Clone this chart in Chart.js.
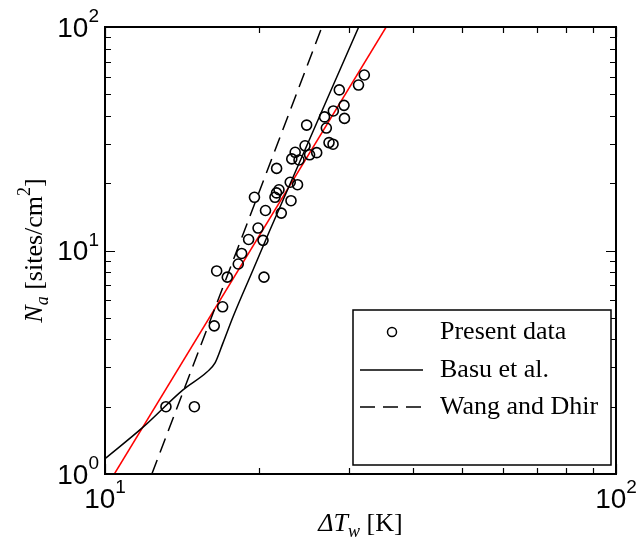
<!DOCTYPE html>
<html>
<head>
<meta charset="utf-8">
<script src="https://cdn.jsdelivr.net/npm/chart.js@4/dist/chart.umd.min.js"></script>
<style>
  html, body { margin: 0; padding: 0; background: #fff; }
  #wrap { width: 638px; height: 539px; position: relative; }
</style>
</head>
<body>
<div id="wrap"><canvas id="chart"></canvas></div>
<script>
// Data (wall superheat [K] vs active site density [sites/cm2])
const presentT = [32.17, 31.34, 28.74, 29.36, 27.98, 26.89, 29.42, 24.81, 27.11, 27.44,
                  27.94, 24.63, 23.56, 25.96, 25.14, 23.20, 23.97, 21.67, 23.04, 23.81,
                  21.90, 21.66, 21.51, 19.61, 23.12, 20.61, 22.13, 19.93, 19.10, 20.38,
                  18.51, 18.23, 16.54, 17.35, 20.47, 16.99, 16.36, 13.16, 14.96];
const presentN = [61.0, 55.0, 52.3, 44.6, 42.1, 39.6, 39.0, 36.4, 35.3, 30.4,
                  29.9, 29.4, 27.5, 27.4, 26.8, 25.7, 25.4, 23.3, 20.2, 19.7,
                  18.7, 18.1, 17.3, 17.3, 16.7, 15.1, 14.7, 12.6, 11.2, 11.1,
                  9.7, 8.7, 8.1, 7.6, 7.6, 5.6, 4.6, 2.0, 2.0];

const basuT = [10, 11.87, 14.21, 15.83, 16.42, 17.02, 17.8, 19.48, 21.03, 31.37];
const basuN = [1.17, 1.62, 2.38, 2.86, 3.14, 3.86, 5.04, 8.18, 12.35, 100];

const wangT = [12.35, 26.58];
const wangN = [1, 100];

const fitT = [10.43, 35.5];
const fitN = [1, 100];

const xTicks = [10, 100];
const xTickExp = ['1', '2'];
const yTicks = [1, 10, 100];
const yTickExp = ['0', '1', '2'];

const legendLabels = ['Present data', 'Basu et al.', 'Wang and Dhir'];

const toPoints = (xs, ys) => xs.map((x, i) => ({ x: x, y: ys[i] }));

const SANS = '"Liberation Sans", Arial, sans-serif';
const SERIF = '"Liberation Serif", "Times New Roman", serif';

// draw a run of text pieces (font, dy offset) starting at x
function drawRuns(ctx, runs, x, y) {
    runs.forEach(r => {
        ctx.font = r.font;
        ctx.fillText(r.t, x, y + (r.dy || 0));
        x += ctx.measureText(r.t).width;
    });
}
function runsWidth(ctx, runs) {
    let w = 0;
    runs.forEach(r => { ctx.font = r.font; w += ctx.measureText(r.t).width; });
    return w;
}
function powRuns(exp) {
    return [
        { t: '10', font: '28px ' + SANS },
        { t: exp, font: '19px ' + SANS, dy: -12 }
    ];
}

// box, inward ticks, tick labels, axis titles and legend
const framePlugin = {
    id: 'frame',
    afterDraw(chart) {
        const ctx = chart.ctx;
        const a = chart.chartArea;
        const xs = chart.scales.x;
        const ys = chart.scales.y;
        ctx.save();
        ctx.strokeStyle = '#000';
        ctx.fillStyle = '#000';

        // ticks
        ctx.lineWidth = 1.2;
        ctx.beginPath();
        for (let d = 1; d <= 100; d *= 10) {
            for (let m = 1; m <= 9; m++) {
                const v = d * m;
                const len = m === 1 ? 10 : 6;
                if (v >= 10 && v <= 100) {
                    const px = Math.round(xs.getPixelForValue(v)) + 0.5;
                    ctx.moveTo(px, a.bottom); ctx.lineTo(px, a.bottom - len);
                    ctx.moveTo(px, a.top); ctx.lineTo(px, a.top + len);
                }
                if (v >= 1 && v <= 100) {
                    const py = Math.round(ys.getPixelForValue(v)) + 0.5;
                    ctx.moveTo(a.left, py); ctx.lineTo(a.left + len, py);
                    ctx.moveTo(a.right, py); ctx.lineTo(a.right - len, py);
                }
            }
        }
        ctx.stroke();

        // frame
        ctx.lineWidth = 2;
        ctx.strokeRect(a.left, a.top, a.right - a.left, a.bottom - a.top);

        // tick labels
        ctx.textBaseline = 'middle';
        ctx.textAlign = 'left';
        xTicks.forEach((v, i) => {
            const runs = powRuns(xTickExp[i]);
            const w = runsWidth(ctx, runs);
            drawRuns(ctx, runs, xs.getPixelForValue(v) - w / 2, a.bottom + 26);
        });
        yTicks.forEach((v, i) => {
            const runs = powRuns(yTickExp[i]);
            const w = runsWidth(ctx, runs);
            drawRuns(ctx, runs, a.left - 6 - w, ys.getPixelForValue(v) + 2);
        });

        // axis titles
        ctx.textBaseline = 'alphabetic';
        const xTitle = [
            { t: '\u0394T', font: 'italic 26px ' + SERIF },
            { t: 'w', font: 'italic 18px ' + SERIF, dy: 6 },
            { t: ' [K]', font: '26px ' + SERIF }
        ];
        const xw = runsWidth(ctx, xTitle);
        drawRuns(ctx, xTitle, (a.left + a.right) / 2 - xw / 2, 531);

        const yTitle = [
            { t: 'N', font: 'italic 26px ' + SERIF },
            { t: 'a', font: 'italic 18px ' + SERIF, dy: 6 },
            { t: ' [sites/cm', font: '26px ' + SERIF },
            { t: '2', font: '18px ' + SERIF, dy: -12 },
            { t: ']', font: '26px ' + SERIF }
        ];
        const yw = runsWidth(ctx, yTitle);
        ctx.save();
        ctx.translate(42, (a.top + a.bottom) / 2);
        ctx.rotate(-Math.PI / 2);
        drawRuns(ctx, yTitle, -yw / 2, 0);
        ctx.restore();

        // legend
        const lx = 353, ly = 310, lw = 258, lh = 155;
        ctx.fillStyle = '#fff';
        ctx.fillRect(lx, ly, lw, lh);
        ctx.lineWidth = 1.5;
        ctx.strokeRect(lx, ly, lw, lh);
        ctx.fillStyle = '#000';
        const rows = [332, 370, 407];
        chart.data.datasets.slice(0, 3).forEach((ds, i) => {
            const ry = rows[i];
            ctx.lineWidth = 1.5;
            if (i === 0) {
                ctx.beginPath();
                ctx.arc(392, ry, 4.5, 0, Math.PI * 2);
                ctx.stroke();
            } else {
                ctx.setLineDash(ds.borderDash || []);
                ctx.beginPath();
                ctx.moveTo(360, ry); ctx.lineTo(423, ry);
                ctx.stroke();
                ctx.setLineDash([]);
            }
            ctx.font = '26px ' + SERIF;
            ctx.textBaseline = 'middle';
            ctx.fillText(legendLabels[i], 440, ry);
        });
        ctx.restore();
    }
};

new Chart(document.getElementById('chart'), {
    type: 'scatter',
    data: {
        datasets: [
            {
                label: legendLabels[0],
                data: toPoints(presentT, presentN),
                pointStyle: 'circle',
                pointRadius: 5,
                pointBorderWidth: 1.6,
                pointBorderColor: '#000',
                pointBackgroundColor: 'rgba(0,0,0,0)'
            },
            {
                label: legendLabels[1],
                data: toPoints(basuT, basuN),
                showLine: true,
                pointRadius: 0,
                borderColor: '#000',
                borderWidth: 1.5,
                cubicInterpolationMode: 'monotone'
            },
            {
                label: legendLabels[2],
                data: toPoints(wangT, wangN),
                showLine: true,
                pointRadius: 0,
                borderColor: '#000',
                borderWidth: 1.5,
                borderDash: [15, 8]
            },
            {
                label: 'fit',
                data: toPoints(fitT, fitN),
                showLine: true,
                pointRadius: 0,
                borderColor: '#ff0000',
                borderWidth: 1.5
            }
        ]
    },
    options: {
        responsive: true,
        maintainAspectRatio: false,
        animation: false,
        layout: { padding: { left: 105, top: 27, right: 22, bottom: 65 } },
        plugins: {
            legend: { display: false },
            tooltip: { enabled: false }
        },
        scales: {
            x: { type: 'logarithmic', min: 10, max: 100, display: false },
            y: { type: 'logarithmic', min: 1, max: 100, display: false }
        }
    },
    plugins: [framePlugin]
});
</script>
</body>
</html>
